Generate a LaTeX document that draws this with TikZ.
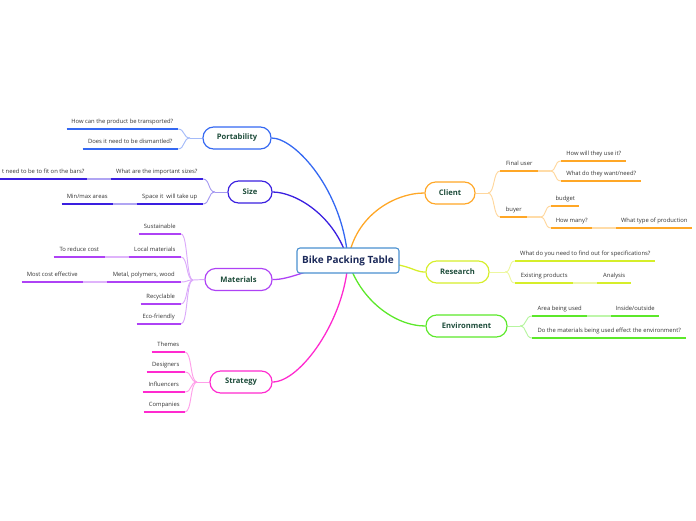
\documentclass[tikz,border=0pt]{standalone}
\usepackage{fontspec}
\setmainfont{Open Sans}
\usetikzlibrary{backgrounds}
\definecolor{colcentre}{HTML}{4A90D0}
\definecolor{colport}{HTML}{3468F2}
\definecolor{colsize}{HTML}{3A1FE0}
\definecolor{colmat}{HTML}{AE42F5}
\definecolor{colstr}{HTML}{FF2ACF}
\definecolor{colcli}{HTML}{FFA726}
\definecolor{colres}{HTML}{D6EE2A}
\definecolor{colenv}{HTML}{5CE82A}
\definecolor{leaftext}{HTML}{333333}
\definecolor{branchtext}{HTML}{1E4D3B}
\definecolor{centretext}{HTML}{1C2A5A}
\tikzset{
  rootnode/.style={draw=colcentre, line width=0.9pt, rounded corners=2.5pt, fill=white,
    minimum width=3.06cm, minimum height=0.75cm, inner sep=0pt,
    font=\bfseries\fontsize{8.5}{10}\selectfont, text=centretext},
  branch/.style={draw=#1, line width=1pt, rounded corners=3.2mm, fill=white,
    minimum height=0.66cm, inner sep=0pt,
    font=\bfseries\fontsize{6.5}{8}\selectfont, text=branchtext},
  trunk/.style={draw=#1, line width=1.1pt},
  leaf/.style={inner xsep=0pt, inner ysep=3.8pt, text height=4pt, text depth=1pt,
    font=\fontsize{5}{6}\selectfont, text=leaftext},
  leafleft/.style={leaf, anchor=south east},
  leafright/.style={leaf, anchor=south west},
  uline/.style={draw=#1, line width=1.3pt},
  twig/.style={draw=#1!45, line width=0.8pt},
  link/.style={draw=#1!40, line width=1.3pt},
}
\begin{document}
\begin{tikzpicture}[x=0.03cm, y=-0.03cm]
\useasboundingbox (0,0) rectangle (696,520);

% centre and main branches
\node[rootnode] (root) at (348,260.5) {Bike Packing Table};
\node[branch=colport, minimum width=2.04cm] (port) at (237,138) {Portability};
\node[branch=colsize, minimum width=1.32cm] (size) at (250,192) {Size};
\node[branch=colmat, minimum width=2.01cm] (mat) at (238.5,279.5) {Materials};
\node[branch=colstr, minimum width=1.86cm] (strat) at (241,382) {Strategy};
\node[branch=colcli, minimum width=1.5cm] (cli) at (450,193) {Client};
\node[branch=colres, minimum width=1.89cm] (res) at (457.5,272) {Research};
\node[branch=colenv, minimum width=2.43cm] (env) at (466.5,326) {Environment};

\begin{scope}[on background layer]
\draw[trunk=colport] (root.center) .. controls (343,190) and (295,138) .. (port.east);
\draw[trunk=colsize] (root.center) .. controls (335,215) and (295,192) .. (size.east);
\draw[trunk=colmat] (root.center) .. controls (310,268) and (290,280) .. (mat.east);
\draw[trunk=colstr] (root.center) .. controls (345,320) and (300,382) .. (strat.east);
\draw[trunk=colcli] (root.center) .. controls (355,215) and (395,193) .. (cli.west);
\draw[trunk=colres] (root.center) .. controls (415,262) and (410,272) .. (res.west);
\draw[trunk=colenv] (root.center) .. controls (360,300) and (395,326) .. (env.west);
\end{scope}

% Portability
\coordinate (jport) at (190,138);
\node[leafleft, minimum width=3.33cm] (p1) at (178,129) {How can the product be transported?};
\node[leafleft, minimum width=2.85cm] (p2) at (178,149) {Does it need to be dismantled?};
\draw[twig=colport] (port.west) -- (jport);
\draw[twig=colport] (jport) .. controls +(-7,0) and +(7,0) .. (p1.south east);
\draw[twig=colport] (jport) .. controls +(-7,0) and +(7,0) .. (p2.south east);
\draw[uline=colport] (p1.south west) -- (p1.south east);
\draw[uline=colport] (p2.south west) -- (p2.south east);

% Size
\coordinate (jsize) at (215,192);
\node[leafleft, minimum width=2.76cm] (s1) at (203,179) {What are the important sizes?};
\node[leafleft, minimum width=2.61cm] (s11) at (87,179) {t need to be to fit on the bars?};
\node[leafleft, minimum width=1.98cm] (s2) at (203,204) {Space it\ \ will take up};
\node[leafleft, minimum width=1.53cm] (s21) at (113,204) {Min/max areas};
\draw[twig=colsize] (size.west) -- (jsize);
\draw[twig=colsize] (jsize) .. controls +(-7,0) and +(7,0) .. (s1.south east);
\draw[twig=colsize] (jsize) .. controls +(-7,0) and +(7,0) .. (s2.south east);
\draw[link=colsize] (s1.south west) -- (s11.south east);
\draw[link=colsize] (s2.south west) -- (s21.south east);
\draw[uline=colsize] (s1.south west) -- (s1.south east);
\draw[uline=colsize] (s11.south west) -- (s11.south east);
\draw[uline=colsize] (s2.south west) -- (s2.south east);
\draw[uline=colsize] (s21.south west) -- (s21.south east);

% Materials
\coordinate (jmat) at (193,280);
\node[leafleft, minimum width=1.26cm] (m1) at (181,234) {Sustainable};
\node[leafleft, minimum width=1.56cm] (m2) at (181,257) {Local materials};
\node[leafleft, minimum width=1.53cm] (m21) at (105,257) {To reduce cost};
\node[leafleft, minimum width=2.22cm] (m3) at (181,282) {Metal, polymers, wood};
\node[leafleft, minimum width=1.83cm] (m31) at (83,282) {Most cost effective};
\node[leafleft, minimum width=1.2cm] (m4) at (181,304) {Recyclable};
\node[leafleft, minimum width=1.32cm] (m5) at (181,324) {Eco-friendly};
\draw[twig=colmat] (mat.west) -- (jmat);
\draw[twig=colmat] (jmat) .. controls +(-7,0) and +(7,0) .. (m1.south east);
\draw[twig=colmat] (jmat) .. controls +(-7,0) and +(7,0) .. (m2.south east);
\draw[twig=colmat] (jmat) .. controls +(-7,0) and +(7,0) .. (m3.south east);
\draw[twig=colmat] (jmat) .. controls +(-7,0) and +(7,0) .. (m4.south east);
\draw[twig=colmat] (jmat) .. controls +(-7,0) and +(7,0) .. (m5.south east);
\draw[link=colmat] (m2.south west) -- (m21.south east);
\draw[link=colmat] (m3.south west) -- (m31.south east);
\draw[uline=colmat] (m1.south west) -- (m1.south east);
\draw[uline=colmat] (m2.south west) -- (m2.south east);
\draw[uline=colmat] (m21.south west) -- (m21.south east);
\draw[uline=colmat] (m3.south west) -- (m3.south east);
\draw[uline=colmat] (m31.south west) -- (m31.south east);
\draw[uline=colmat] (m4.south west) -- (m4.south east);
\draw[uline=colmat] (m5.south west) -- (m5.south east);

% Strategy
\coordinate (jstrat) at (197,382);
\node[leafleft, minimum width=0.99cm] (t1) at (185,352) {Themes};
\node[leafleft, minimum width=1.14cm] (t2) at (185,372) {Designers};
\node[leafleft, minimum width=1.26cm] (t3) at (185,392) {Influencers};
\node[leafleft, minimum width=1.23cm] (t4) at (185,412) {Companies};
\draw[twig=colstr] (strat.west) -- (jstrat);
\draw[twig=colstr] (jstrat) .. controls +(-7,0) and +(7,0) .. (t1.south east);
\draw[twig=colstr] (jstrat) .. controls +(-7,0) and +(7,0) .. (t2.south east);
\draw[twig=colstr] (jstrat) .. controls +(-7,0) and +(7,0) .. (t3.south east);
\draw[twig=colstr] (jstrat) .. controls +(-7,0) and +(7,0) .. (t4.south east);
\draw[uline=colstr] (t1.south west) -- (t1.south east);
\draw[uline=colstr] (t2.south west) -- (t2.south east);
\draw[uline=colstr] (t3.south west) -- (t3.south east);
\draw[uline=colstr] (t4.south west) -- (t4.south east);

% Client
\coordinate (jcli) at (488,193);
\coordinate (jfinal) at (550,171);
\coordinate (jbuyer) at (540,217);
\node[leafright, minimum width=1.14cm] (c1) at (500,171) {Final user};
\node[leafright, minimum width=1.95cm] (c11) at (561,161) {How will they use it?};
\node[leafright, minimum width=2.4cm] (c12) at (561,181) {What do they want/need?};
\node[leafright, minimum width=0.81cm] (c2) at (500,217) {buyer};
\node[leafright, minimum width=0.84cm] (c21) at (551,206) {budget};
\node[leafright, minimum width=1.23cm] (c22) at (551,228) {How many?};
\node[leafright, minimum width=2.28cm] (c221) at (616,228) {What type of production};
\draw[twig=colcli] (cli.east) -- (jcli);
\draw[twig=colcli] (jcli) .. controls +(7,0) and +(-7,0) .. (c1.south west);
\draw[twig=colcli] (jcli) .. controls +(7,0) and +(-7,0) .. (c2.south west);
\draw[link=colcli] (c1.south east) -- (jfinal);
\draw[twig=colcli] (jfinal) .. controls +(7,0) and +(-7,0) .. (c11.south west);
\draw[twig=colcli] (jfinal) .. controls +(7,0) and +(-7,0) .. (c12.south west);
\draw[link=colcli] (c2.south east) -- (jbuyer);
\draw[twig=colcli] (jbuyer) .. controls +(7,0) and +(-7,0) .. (c21.south west);
\draw[twig=colcli] (jbuyer) .. controls +(7,0) and +(-7,0) .. (c22.south west);
\draw[link=colcli] (c22.south east) -- (c221.south west);
\draw[uline=colcli] (c1.south west) -- (c1.south east);
\draw[uline=colcli] (c11.south west) -- (c11.south east);
\draw[uline=colcli] (c12.south west) -- (c12.south east);
\draw[uline=colcli] (c2.south west) -- (c2.south east);
\draw[uline=colcli] (c21.south west) -- (c21.south east);
\draw[uline=colcli] (c22.south west) -- (c22.south east);
\draw[uline=colcli] (c221.south west) -- (c221.south east);

% Research
\coordinate (jres) at (505,272);
\node[leafright, minimum width=4.2cm] (r1) at (515,261) {What do you need to find out for specifications?};
\node[leafright, minimum width=1.74cm] (r2) at (515,283) {Existing products};
\node[leafright, minimum width=1.02cm] (r21) at (597,283) {Analysis};
\draw[twig=colres] (res.east) -- (jres);
\draw[twig=colres] (jres) .. controls +(7,0) and +(-7,0) .. (r1.south west);
\draw[twig=colres] (jres) .. controls +(7,0) and +(-7,0) .. (r2.south west);
\draw[link=colres] (r2.south east) -- (r21.south west);
\draw[uline=colres] (r1.south west) -- (r1.south east);
\draw[uline=colres] (r2.south west) -- (r2.south east);
\draw[uline=colres] (r21.south west) -- (r21.south east);

% Environment
\coordinate (jenv) at (520,326);
\node[leafright, minimum width=1.65cm] (e1) at (532,316) {Area being used};
\node[leafright, minimum width=1.44cm] (e11) at (611,316) {Inside/outside};
\node[leafright, minimum width=4.62cm] (e2) at (532,338) {Do the materials being used effect the environment?};
\draw[twig=colenv] (env.east) -- (jenv);
\draw[twig=colenv] (jenv) .. controls +(7,0) and +(-7,0) .. (e1.south west);
\draw[twig=colenv] (jenv) .. controls +(7,0) and +(-7,0) .. (e2.south west);
\draw[link=colenv] (e1.south east) -- (e11.south west);
\draw[uline=colenv] (e1.south west) -- (e1.south east);
\draw[uline=colenv] (e11.south west) -- (e11.south east);
\draw[uline=colenv] (e2.south west) -- (e2.south east);
\end{tikzpicture}
\end{document}
